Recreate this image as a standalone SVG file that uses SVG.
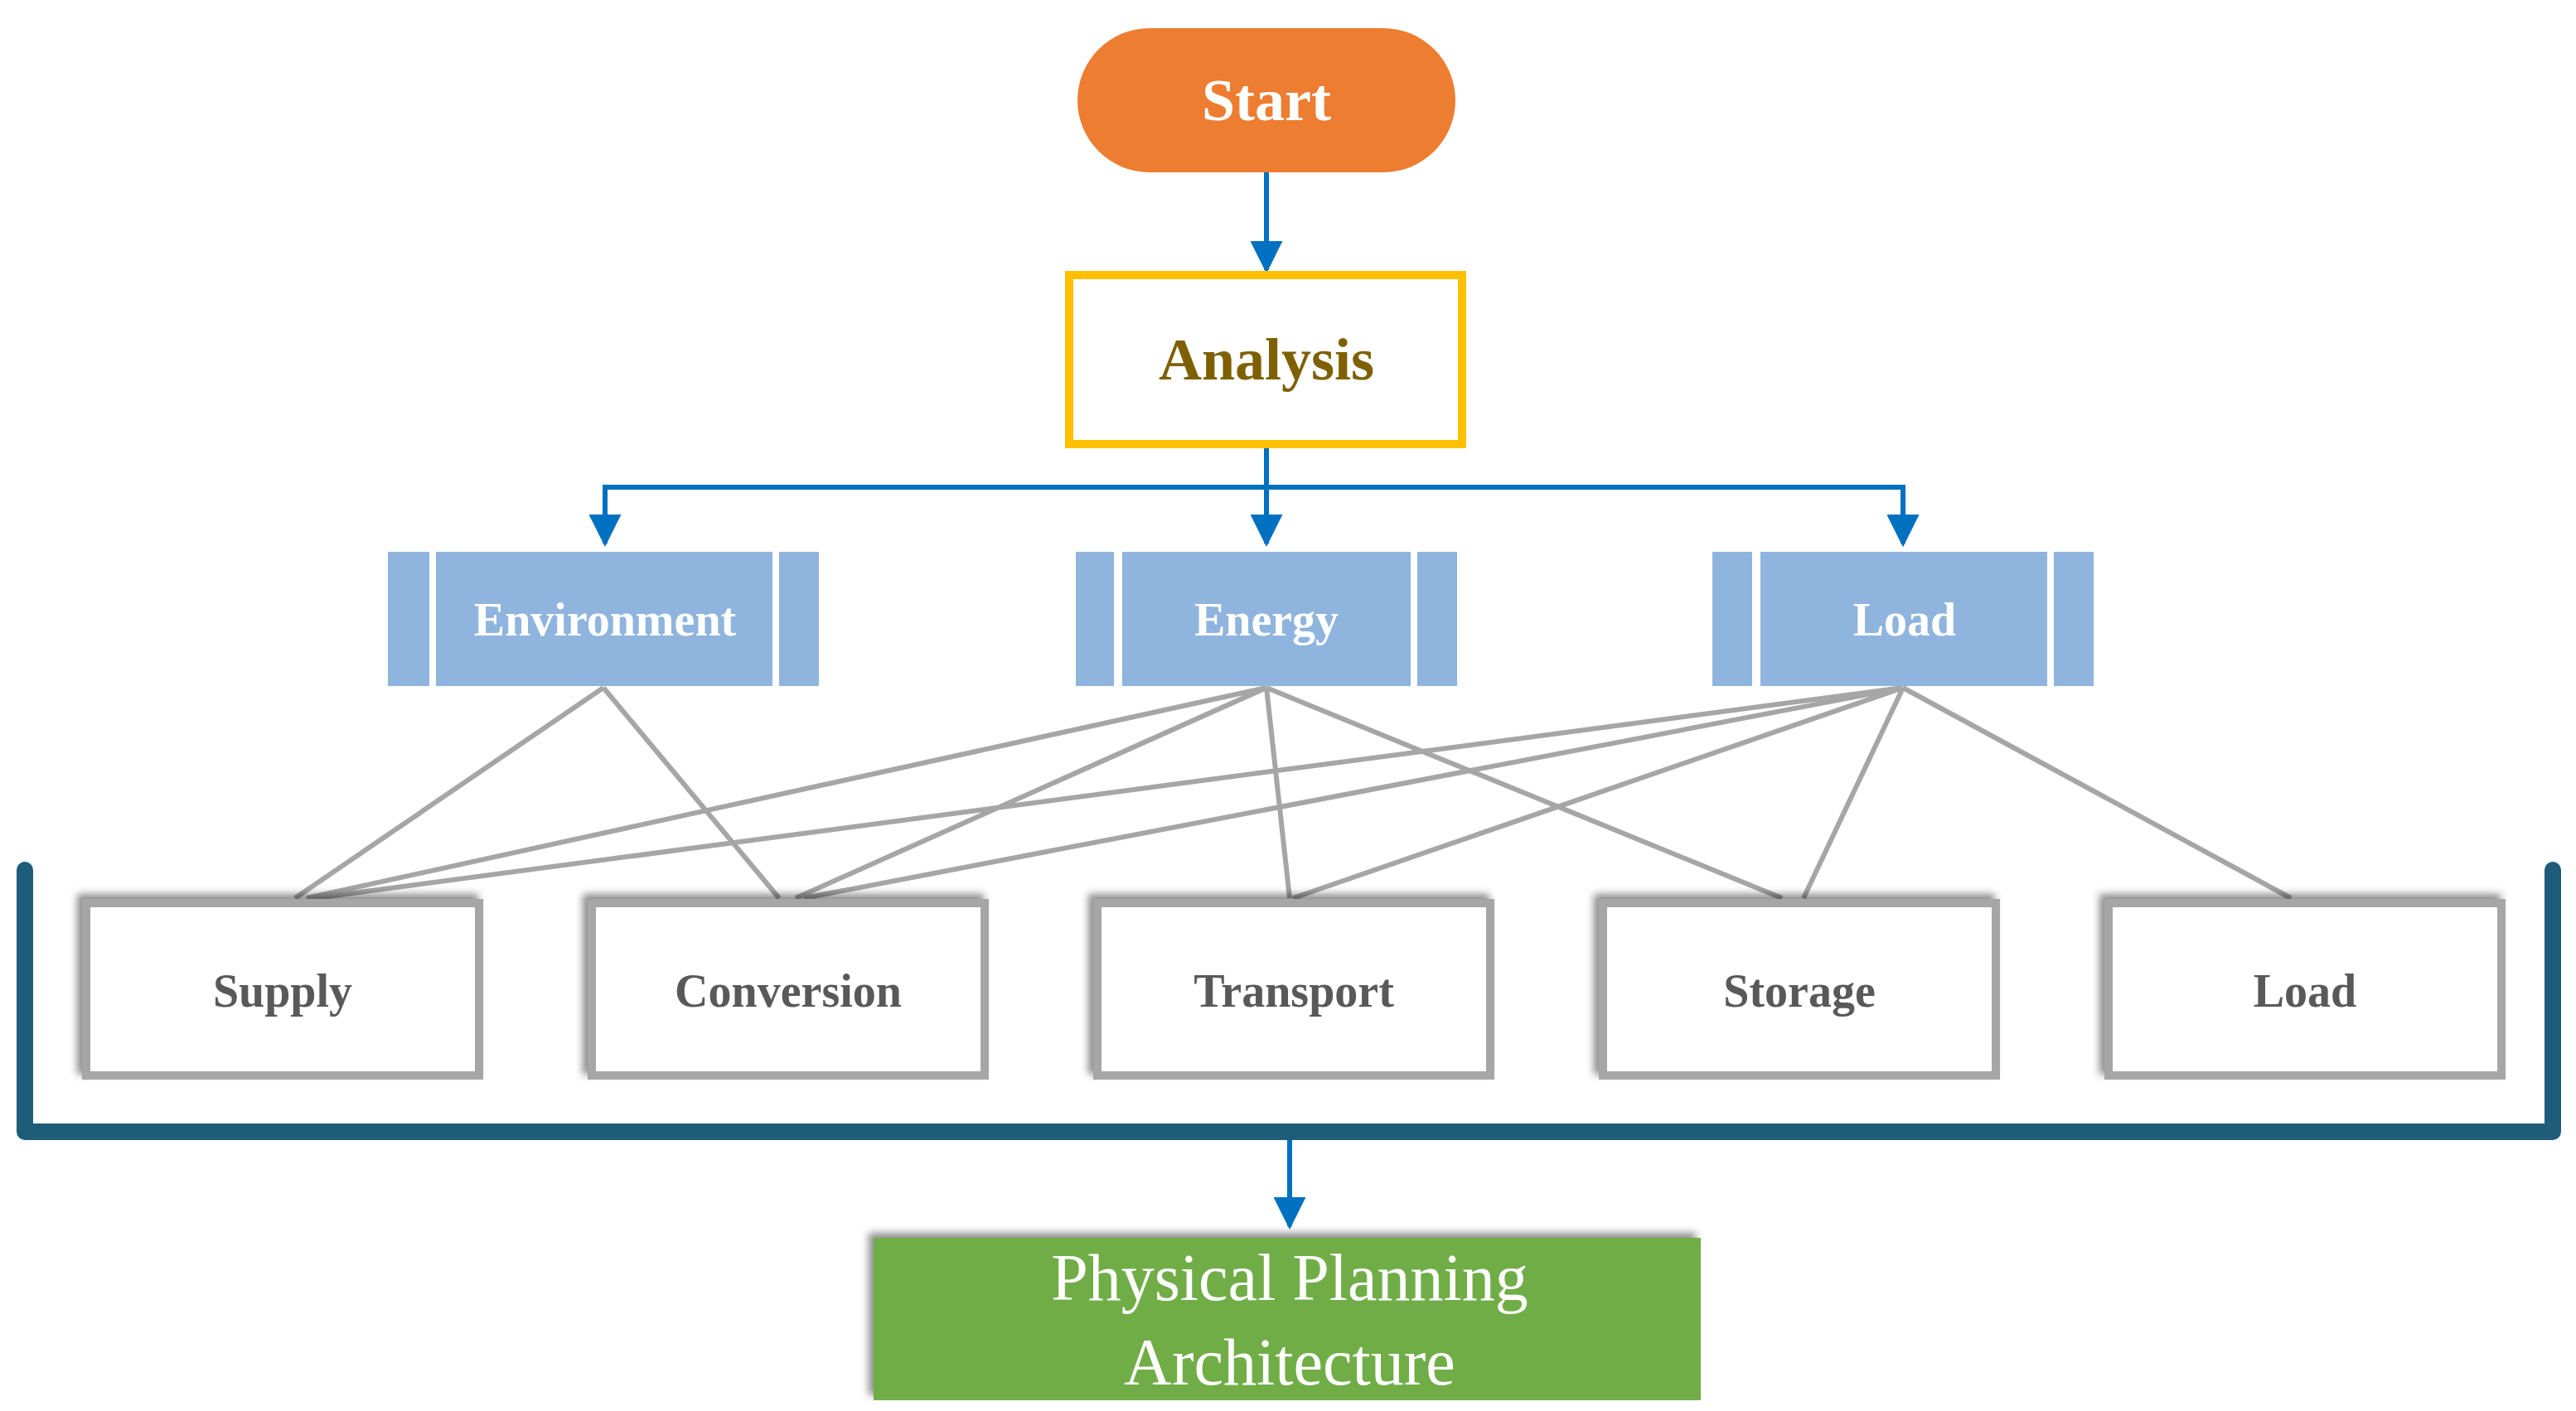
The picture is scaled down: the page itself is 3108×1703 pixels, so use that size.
<svg xmlns="http://www.w3.org/2000/svg" width="3108" height="1703" viewBox="0 0 3108 1703">
<defs>
<style>
.t{font-family:"Liberation Serif","DejaVu Serif",serif;text-anchor:middle;dominant-baseline:central}
.b{fill:#8FB4DE}
.g{stroke:#A6A6A6;stroke-width:6;fill:none}
.blue{stroke:#0070C0;stroke-width:6;fill:none}
.box{fill:#fff;stroke:#A6A6A6;stroke-width:10;filter:url(#sh)}
.bt{font-size:56px;font-weight:bold;fill:#595959}
.nt{font-size:56px;font-weight:bold;fill:#fff}
</style>
<filter id="sh" x="-10%" y="-10%" width="120%" height="130%"><feDropShadow dx="-6" dy="-6" stdDeviation="5" flood-color="#000" flood-opacity="0.45"/></filter>
<marker id="ar" viewBox="0 0 10 10" refX="9" refY="5" markerWidth="6.5" markerHeight="6.5" orient="auto"><path d="M0,0L10,5L0,10z" fill="#0070C0"/></marker>
</defs>
<rect width="3108" height="1703" fill="#fff"/>
<g id="connectors">
<path class="blue" d="M1528,208V326" marker-end="url(#ar)"/>
<path class="blue" d="M1528,536V656" marker-end="url(#ar)"/>
<path class="blue" d="M730,656V588H2296V656" marker-end="url(#ar)"/>
<path class="blue" d="M730,588V656" marker-end="url(#ar)"/>
<path class="blue" d="M2296,588V656" marker-end="url(#ar)"/>
<path class="blue" d="M1556,1366V1480" marker-end="url(#ar)"/>
<path class="g" d="M728,830L356,1084M728,830L940,1084M1528,830L370,1084M1528,830L960,1084M1528,830L1556,1084M1528,830L2150,1084M2296,830L380,1084M2296,830L970,1084M2296,830L1560,1084M2296,830L2176,1084M2296,830L2764,1084"/>
<path d="M30,1050V1366H3080V1050" fill="none" stroke="#1F5C7A" stroke-width="20" stroke-linejoin="round" stroke-linecap="round"/>
</g>
<g id="start"><rect x="1300" y="34" width="456" height="174" rx="87" fill="#ED7D31"/><text class="t" x="1528" y="121" font-size="72" font-weight="bold" fill="#fff">Start</text></g>
<g id="analysis"><rect x="1290" y="332" width="474" height="204" fill="#fff" stroke="#FFC000" stroke-width="10"/><text class="t" x="1528" y="434" font-size="72" font-weight="bold" fill="#7F6000">Analysis</text></g>
<g id="environment"><rect class="b" x="468" y="666" width="50" height="162"/><rect class="b" x="526" y="666" width="406" height="162"/><rect class="b" x="940" y="666" width="48" height="162"/><text class="t nt" x="730" y="748">Environment</text></g>
<g id="energy"><rect class="b" x="1298" y="666" width="46" height="162"/><rect class="b" x="1354" y="666" width="348" height="162"/><rect class="b" x="1710" y="666" width="48" height="162"/><text class="t nt" x="1528" y="748">Energy</text></g>
<g id="load-top"><rect class="b" x="2066" y="666" width="48" height="162"/><rect class="b" x="2124" y="666" width="346" height="162"/><rect class="b" x="2478" y="666" width="48" height="162"/><text class="t nt" x="2298" y="748">Load</text></g>
<g id="supply"><rect class="box" x="104" y="1090" width="474" height="208"/><text class="t bt" x="341" y="1196">Supply</text></g>
<g id="conversion"><rect class="box" x="714" y="1090" width="474" height="208"/><text class="t bt" x="951" y="1196">Conversion</text></g>
<g id="transport"><rect class="box" x="1324" y="1090" width="474" height="208"/><text class="t bt" x="1561" y="1196">Transport</text></g>
<g id="storage"><rect class="box" x="1934" y="1090" width="474" height="208"/><text class="t bt" x="2171" y="1196">Storage</text></g>
<g id="load"><rect class="box" x="2544" y="1090" width="474" height="208"/><text class="t bt" x="2781" y="1196">Load</text></g>
<g id="physical"><rect x="1054" y="1494" width="998" height="196" fill="#70AD47" filter="url(#sh)"/><text class="t" x="1556" y="1542" font-size="80" fill="#fff">Physical Planning</text><text class="t" x="1556" y="1644" font-size="80" fill="#fff">Architecture</text></g>
</svg>
